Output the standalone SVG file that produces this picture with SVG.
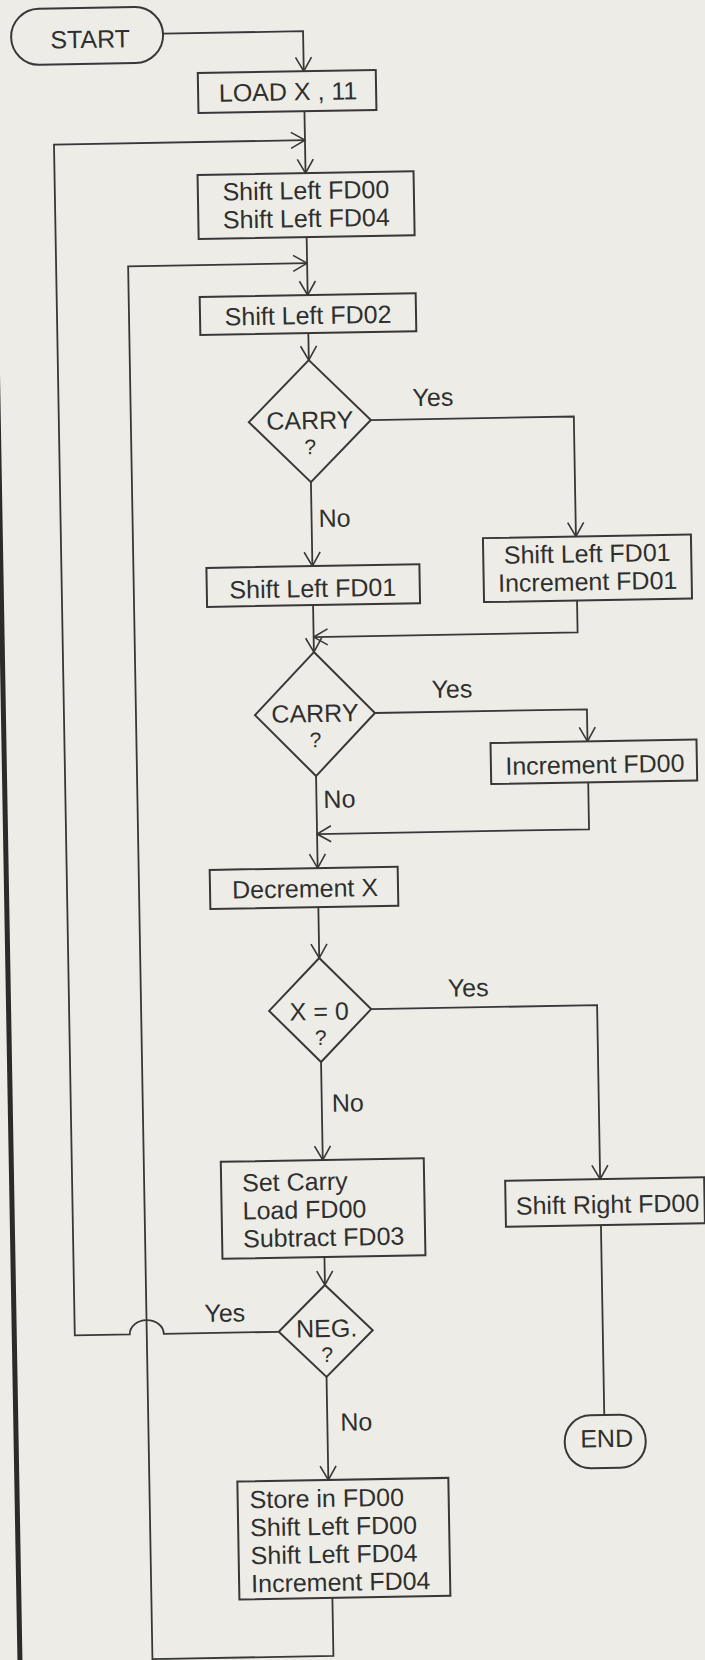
<svg xmlns="http://www.w3.org/2000/svg" width="705" height="1660" viewBox="0 0 705 1660">
<defs>
<style>
.bx{fill:none;stroke:#383838;stroke-width:2}
.ln{fill:none;stroke:#383838;stroke-width:1.8}
.t{font-family:"Liberation Sans",Arial,sans-serif;font-size:25px;fill:#2f2f2f}
.q{font-size:21px}
.m{text-anchor:middle}
</style>
<marker id="arr" viewBox="0 0 16 20" refX="15" refY="10" markerWidth="16" markerHeight="20" markerUnits="userSpaceOnUse" orient="auto">
<path d="M1,2 L15,10 L1,18" fill="none" stroke="#383838" stroke-width="1.6"/>
</marker>
</defs>
<rect x="0" y="0" width="705" height="1660" fill="#edece7"/>
<g transform="rotate(-1 320 830)">
<rect x="3" y="-60" width="5" height="1790" fill="#2b2b2b"/>
<g id="connectors">
<path class="ln" d="M177,31 H317 V71" marker-end="url(#arr)"/>
<path class="ln" d="M317,111 V173" marker-end="url(#arr)"/>
<path class="ln" d="M317,237 V295" marker-end="url(#arr)"/>
<path class="ln" d="M270,1331 H155 A17 14 0 0 0 121,1331 H66 V140 H317" marker-end="url(#arr)"/>
<path class="ln" d="M319,1598 V1656 H138 V263 H317" marker-end="url(#arr)"/>
<path class="ln" d="M317,333 V360" marker-end="url(#arr)"/>
<path class="ln" d="M378,421 H581 V541" marker-end="url(#arr)"/>
<path class="ln" d="M317,482 V566" marker-end="url(#arr)"/>
<path class="ln" d="M581,605 V637 H317" marker-end="url(#arr)"/>
<path class="ln" d="M317,605 V652" marker-end="url(#arr)"/>
<path class="ln" d="M377,714 H589 V746" marker-end="url(#arr)"/>
<path class="ln" d="M589,787 V834 H317" marker-end="url(#arr)"/>
<path class="ln" d="M317,776 V868" marker-end="url(#arr)"/>
<path class="ln" d="M317,907 V958" marker-end="url(#arr)"/>
<path class="ln" d="M368,1010 H594 V1184" marker-end="url(#arr)"/>
<path class="ln" d="M594,1230 V1420"/>
<path class="ln" d="M317,1062 V1160" marker-end="url(#arr)"/>
<path class="ln" d="M317,1257 V1285" marker-end="url(#arr)"/>
<path class="ln" d="M317,1377 V1480" marker-end="url(#arr)"/>
<text class="t" x="420" y="408">Yes</text>
<text class="t" x="324" y="527">No</text>
<text class="t" x="434" y="700">Yes</text>
<text class="t" x="324" y="808">No</text>
<text class="t" x="445" y="999">Yes</text>
<text class="t" x="327" y="1112">No</text>
<text class="t" x="196" y="1320">Yes</text>
<text class="t" x="330" y="1431">No</text>
</g>
<g id="start">
<rect class="bx" x="25" y="4" width="152" height="56" rx="28"/>
<text class="t m" x="104" y="44">START</text>
</g>
<g id="load">
<rect class="bx" x="211" y="71" width="178" height="40"/>
<text class="t m" x="301" y="100">LOAD X , 11</text>
</g>
<g id="shift00_04">
<rect class="bx" x="209" y="173" width="216" height="64"/>
<text class="t m" x="317" y="199">Shift Left FD00</text>
<text class="t m" x="317" y="227">Shift Left FD04</text>
</g>
<g id="shift02">
<rect class="bx" x="209" y="295" width="216" height="38"/>
<text class="t m" x="317" y="324">Shift Left FD02</text>
</g>
<g id="carry1">
<polygon class="bx" points="317,360 378,421 317,482 256,421"/>
<text class="t m" x="317" y="429">CARRY</text>
<text class="t q m" x="317" y="454">?</text>
</g>
<g id="shift01">
<rect class="bx" x="211" y="566" width="213" height="39"/>
<text class="t m" x="317" y="597">Shift Left FD01</text>
</g>
<g id="shift01_inc01">
<rect class="bx" x="488" y="541" width="208" height="64"/>
<text class="t m" x="592" y="567">Shift Left FD01</text>
<text class="t m" x="592" y="595">Increment FD01</text>
</g>
<g id="carry2">
<polygon class="bx" points="317,652 377,714 317,776 257,714"/>
<text class="t m" x="317" y="722">CARRY</text>
<text class="t q m" x="317" y="747">?</text>
</g>
<g id="inc00">
<rect class="bx" x="492" y="746" width="206" height="41"/>
<text class="t m" x="596" y="778">Increment FD00</text>
</g>
<g id="decx">
<rect class="bx" x="209" y="868" width="188" height="39"/>
<text class="t m" x="304" y="897">Decrement X</text>
</g>
<g id="xzero">
<polygon class="bx" points="317,958 368,1010 317,1062 266,1010"/>
<text class="t m" x="316" y="1020">X = 0</text>
<text class="t q m" x="317" y="1045">?</text>
</g>
<g id="shiftright">
<rect class="bx" x="499" y="1184" width="199" height="46"/>
<text class="t m" x="601" y="1218">Shift Right FD00</text>
</g>
<g id="end">
<rect class="bx" x="554" y="1420" width="81" height="53" rx="26"/>
<text class="t m" x="596" y="1452">END</text>
</g>
<g id="subtract">
<rect class="bx" x="215" y="1160" width="203" height="97"/>
<text class="t" x="236" y="1190">Set Carry</text>
<text class="t" x="236" y="1218">Load FD00</text>
<text class="t" x="236" y="1246">Subtract FD03</text>
</g>
<g id="neg">
<polygon class="bx" points="317,1285 364,1331 317,1377 270,1331"/>
<text class="t m" x="318" y="1337">NEG.</text>
<text class="t q m" x="318" y="1362">?</text>
</g>
<g id="store">
<rect class="bx" x="226" y="1480" width="211" height="118"/>
<text class="t" x="238" y="1507">Store in FD00</text>
<text class="t" x="238" y="1535">Shift Left FD00</text>
<text class="t" x="238" y="1563">Shift Left FD04</text>
<text class="t" x="238" y="1591">Increment FD04</text>
</g>
</g>
</svg>
